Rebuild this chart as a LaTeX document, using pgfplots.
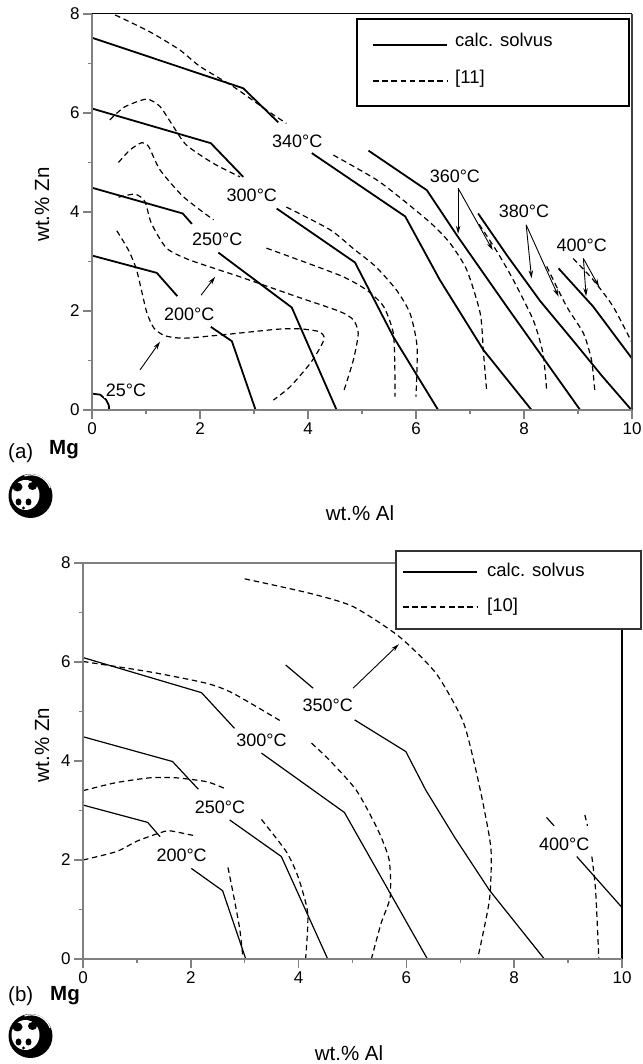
\documentclass[border=0pt]{standalone}
\usepackage{fontspec}
\setmainfont{Liberation Sans}
\usepackage{pgfplots}
\pgfplotsset{compat=1.18}
\usetikzlibrary{arrows.meta}
\newcommand{\myfs}{\fontsize{18pt}{21pt}\selectfont}
\newcommand{\legfs}{\fontsize{18.5pt}{22pt}\selectfont}
\newcommand{\tickfs}{\fontsize{17pt}{20pt}\selectfont}
\newcommand{\titfs}{\fontsize{20.5pt}{24pt}\selectfont}
\tikzset{
  tlab/.style={font=\myfs, fill=white, inner sep=1.5pt},
  arr/.style={-{Stealth[length=8pt,width=4.5pt]}, line width=0.9pt},
  panda/.pic={
    \fill[black] (0,0) circle (22pt);
    \draw[white, line width=1.2pt] (-6pt,20pt) arc (110:20:20pt);
    \fill[white] (-5pt,1pt) ellipse (14pt and 15pt);
    \fill[black] (-13pt,9pt) ellipse (5pt and 4.5pt);
    \fill[black] (2pt,10pt) ellipse (4.5pt and 4pt);
    \fill[black] (-12pt,-6pt) ellipse (3pt and 3.5pt);
    \fill[black] (-2pt,-6pt) ellipse (3pt and 3.5pt);
    \fill[black] (-7pt,-12pt) circle (1.6pt);
  },
}
\pgfplotsset{
  myaxis/.style={
    scale only axis, height=396pt, anchor=south west,
    xmin=0,xmax=10,ymin=0,ymax=8,
    xtick={0,2,...,10}, ytick={0,2,...,8}, minor tick num=1,
    xtick pos=bottom, ytick pos=left, tick align=outside,
    major tick length=9pt, minor tick length=4pt,
    every tick/.style={gray, line width=1.5pt},
    axis line style={draw=none},
    tick label style={font=\tickfs},
    /pgf/number format/assume math mode=true,
    unbounded coords=jump,
    clip=false,
  },
  sol/.style={black, line width=1.8pt, no markers},
  solb/.style={black, line width=1.2pt, no markers},
  das/.style={black, line width=1.2pt, no markers, dash pattern=on 5.5pt off 3.7pt, smooth, tension=0.4},
}
\begin{document}
\begin{tikzpicture}
\path[use as bounding box] (0,0) rectangle (642pt,1064pt);

% ================= Panel (a) =================
\begin{axis}[myaxis, width=540pt, at={(92pt,654pt)}]
\addplot[sol] coordinates {(0,0.33) (0.15,0.31) (0.26,0.21) (0.31,0.1) (0.32,0)};
\addplot[sol] coordinates {(0,3.12) (1.20,2.77) (1.58,2.30) (1.9,nan) (2.20,1.68) (2.59,1.39) (3.03,0)};
\addplot[sol] coordinates {(0,4.49) (1.68,3.97) (1.85,3.76) (2.1,nan) (2.34,3.18) (3.70,2.07) (4.53,0)};
\addplot[sol] coordinates {(0,6.09) (2.20,5.39) (2.80,4.71) (3.1,nan) (3.42,4.07) (4.87,2.98) (5.58,1.48) (6.41,0)};
\addplot[sol] coordinates {(0,7.52) (2.80,6.50) (3.45,5.81) (3.8,nan) (4.07,5.19) (5.80,3.91) (6.44,2.63) (7.25,1.21) (8.14,0)};
\addplot[sol] coordinates {(5.12,5.24) (6.20,4.44) (6.75,3.54) (7.68,2.09) (9.04,0)};
\addplot[sol] coordinates {(7.15,3.97) (7.70,3.10) (8.30,2.20) (8.91,1.40) (9.45,0.68) (9.99,0)};
\addplot[sol] coordinates {(8.64,2.86) (9.28,2.09) (10,1.04)};
\addplot[das] coordinates {(0.46,3.62) (0.68,3.22) (0.82,2.85) (0.92,2.40) (1.02,1.95) (1.15,1.65) (1.35,1.50) (1.70,1.45) (2.43,1.52) (3.42,1.63) (3.85,1.64) (4.22,1.58) (4.30,1.45) (4.22,1.25) (4.04,0.94) (3.67,0.47) (3.36,0.20)};
\addplot[das] coordinates {(0.49,4.30) (0.80,4.36) (0.98,4.21) (1.10,3.77) (1.38,3.27) (1.81,3.03) (2.74,2.69) (3.79,2.29) (4.59,1.99) (4.84,1.82) (4.93,1.55) (4.84,1.01) (4.65,0.34)};
\addplot[das] coordinates {(0.49,5.00) (0.70,5.25) (0.92,5.40) (1.05,5.32) (1.26,4.85) (1.69,4.31) (2.25,3.84) (2.7,nan) (3.23,3.27) (4.59,2.72) (5.09,2.42) (5.40,2.09) (5.58,1.55) (5.61,0.74) (5.61,0.27)};
\addplot[das] coordinates {(0.33,5.86) (0.6,6.12) (1.01,6.28) (1.26,6.13) (1.51,5.72) (1.75,5.35) (2.25,4.98) (2.74,4.71) (3.2,nan) (3.6,4.10) (4.41,3.64) (4.85,3.25) (5.25,2.90) (5.64,2.42) (5.89,1.95) (6.02,1.28) (6.00,0.27)};
\addplot[das] coordinates {(0.43,7.98) (1.07,7.64) (1.63,7.27) (2.0,6.94) (2.62,6.53) (3.23,6.06) (3.60,5.79) (4.0,nan) (4.47,5.15) (5.27,4.65) (5.83,4.18) (6.30,3.75) (6.63,3.37) (6.94,2.83) (7.19,1.95) (7.25,1.15) (7.31,0.37)};
\addplot[das] coordinates {(7.17,3.75) (7.50,3.20) (7.80,2.63) (8.17,1.82) (8.35,1.15) (8.42,0.40)};
\addplot[das] coordinates {(8.42,2.90) (8.79,2.09) (9.10,1.55) (9.25,1.01) (9.31,0.40)};
\addplot[das] coordinates {(8.91,3.06) (9.28,2.63) (9.65,2.09) (9.99,1.38)};
\node[tlab] at (axis cs:0.63,0.40) {25°C};
\node[tlab] at (axis cs:1.80,1.94) {200°C};
\node[tlab] at (axis cs:2.32,3.45) {250°C};
\node[tlab] at (axis cs:2.96,4.34) {300°C};
\node[tlab] at (axis cs:3.80,5.43) {340°C};
\node[tlab] at (axis cs:6.72,4.73) {360°C};
\node[tlab] at (axis cs:8.00,4.01) {380°C};
\node[tlab] at (axis cs:9.07,3.33) {400°C};
\draw[arr] (axis cs:0.89,0.81) -- (axis cs:1.26,1.38);
\draw[arr] (axis cs:2.02,2.32) -- (axis cs:2.28,2.69);
\draw[arr] (axis cs:6.78,4.48) -- (axis cs:6.78,3.56);
\draw[arr] (axis cs:6.78,4.48) -- (axis cs:7.42,3.23);
\draw[arr] (axis cs:8.04,3.74) -- (axis cs:8.14,2.66);
\draw[arr] (axis cs:8.04,3.74) -- (axis cs:8.64,2.29);
\draw[arr] (axis cs:9.10,3.06) -- (axis cs:9.15,2.30);
\draw[arr] (axis cs:9.10,3.06) -- (axis cs:9.39,2.49);
\draw[black, line width=1pt] (rel axis cs:0,1) -- (rel axis cs:1,1);
\draw[black!75, line width=1.5pt] (rel axis cs:1,1) -- (rel axis cs:1,0);
\draw[gray, line width=2pt] (rel axis cs:0,1) -- (rel axis cs:0,0) -- (rel axis cs:1,0);
\end{axis}
\draw[black, line width=1.3pt, fill=white] (357pt,1045pt) rectangle (629pt,958pt);
\draw[black, line width=1.8pt] (373pt,1019pt) -- (447pt,1019pt);
\draw[black, line width=1.2pt, dash pattern=on 5.5pt off 3.7pt] (373pt,983pt) -- (447pt,983pt);
\node[anchor=base west, font=\legfs, inner sep=0pt] at (455pt,1017.5pt) {calc. solvus};
\node[anchor=base west, font=\legfs, inner sep=0pt] at (455pt,980pt) {[11]};
\node[font=\titfs, rotate=90] at (42pt,859.5pt) {wt.\% Zn};
\node[font=\titfs, anchor=base, inner sep=0pt] at (360pt,543.5pt) {wt.\% Al};
\node[font=\titfs, anchor=base west, inner sep=0pt] at (8pt,605pt) {(a)};
\node[font=\titfs, anchor=base west, inner sep=0pt] at (49pt,609pt) {\textbf{Mg}};
\pic at (30.5pt,568pt) {panda};

% ================= Panel (b) =================
\begin{axis}[myaxis, width=539pt, at={(83pt,105pt)}]
\addplot[solb] coordinates {(0,3.11) (1.20,2.76) (1.43,2.47) (1.7,nan) (2.01,1.83) (2.59,1.38) (3.02,0)};
\addplot[solb] coordinates {(0,4.49) (1.66,3.99) (2.14,3.43) (2.4,nan) (2.72,2.81) (3.68,2.07) (4.54,0)};
\addplot[solb] coordinates {(0,6.09) (2.20,5.38) (2.81,4.66) (3.0,nan) (3.31,4.16) (4.85,2.96) (6.39,0)};
\addplot[solb] coordinates {(3.76,5.94) (4.27,5.47) (4.6,nan) (5.04,4.83) (5.99,4.19) (6.36,3.41) (6.90,2.45) (7.54,1.39) (8.56,0)};
\addplot[solb] coordinates {(8.60,2.86) (8.74,2.69) (8.9,nan) (9.16,2.07) (10,1.04)};
\addplot[das] coordinates {(3.0,7.68) (4.20,7.39) (5.01,7.12) (5.87,6.51) (6.55,5.77) (7.04,4.83) (7.25,4.0) (7.43,3.1) (7.57,2.20) (7.54,1.19) (7.32,0)};
\addplot[das] coordinates {(0,6.01) (1.24,5.80) (2.29,5.57) (2.78,5.37) (3.68,4.80) (3.95,nan) (4.24,4.36) (4.57,4.02) (5.07,3.41) (5.47,2.61) (5.68,2.0) (5.70,1.26) (5.53,0.72) (5.35,0)};
\addplot[das] coordinates {(0,3.40) (0.6,3.56) (1.24,3.66) (1.73,3.66) (2.30,3.58) (2.66,3.43) (3.0,nan) (3.31,2.82) (3.77,2.17) (3.99,1.66) (4.17,0.92) (4.13,0)};
\addplot[das] coordinates {(0,2.00) (0.62,2.17) (1.0,2.38) (1.43,2.55) (1.61,2.59) (2.07,2.49) (2.4,nan) (2.69,1.85) (2.81,1.19) (2.91,0.59) (2.97,0)};
\addplot[das] coordinates {(9.31,2.91) (9.36,2.69) (9.4,nan) (9.44,2.07) (9.51,1.39) (9.57,0)};
\node[tlab] at (axis cs:1.83,2.10) {200°C};
\node[tlab] at (axis cs:2.54,3.07) {250°C};
\node[tlab] at (axis cs:3.31,4.42) {300°C};
\node[tlab] at (axis cs:4.54,5.13) {350°C};
\node[tlab] at (axis cs:8.93,2.32) {400°C};
\draw[arr] (axis cs:5.01,5.47) -- (axis cs:5.86,6.36);
\draw[gray, line width=1.2pt] (rel axis cs:0,1) -- (rel axis cs:1,1);
\draw[black, line width=2pt] (rel axis cs:1,1) -- (rel axis cs:1,0);
\draw[gray, line width=2pt] (rel axis cs:0,1) -- (rel axis cs:0,0) -- (rel axis cs:1,0);
\end{axis}
\draw[black!80, line width=1.3pt, fill=white] (396pt,513pt) rectangle (641pt,435pt);
\draw[black, line width=1.2pt] (403pt,492pt) -- (477pt,492pt);
\draw[black, line width=1.2pt, dash pattern=on 5.5pt off 3.7pt] (403pt,457pt) -- (477pt,457pt);
\node[anchor=base west, font=\legfs, inner sep=0pt] at (487pt,487pt) {calc. solvus};
\node[anchor=base west, font=\legfs, inner sep=0pt] at (487pt,452pt) {[10]};
\node[font=\titfs, rotate=90] at (42pt,319pt) {wt.\% Zn};
\node[font=\titfs, anchor=base, inner sep=0pt] at (349pt,3.5pt) {wt.\% Al};
\node[font=\titfs, anchor=base west, inner sep=0pt] at (8pt,62pt) {(b)};
\node[font=\titfs, anchor=base west, inner sep=0pt] at (50pt,63pt) {\textbf{Mg}};
\pic at (30.5pt,28pt) {panda};
\end{tikzpicture}
\end{document}
